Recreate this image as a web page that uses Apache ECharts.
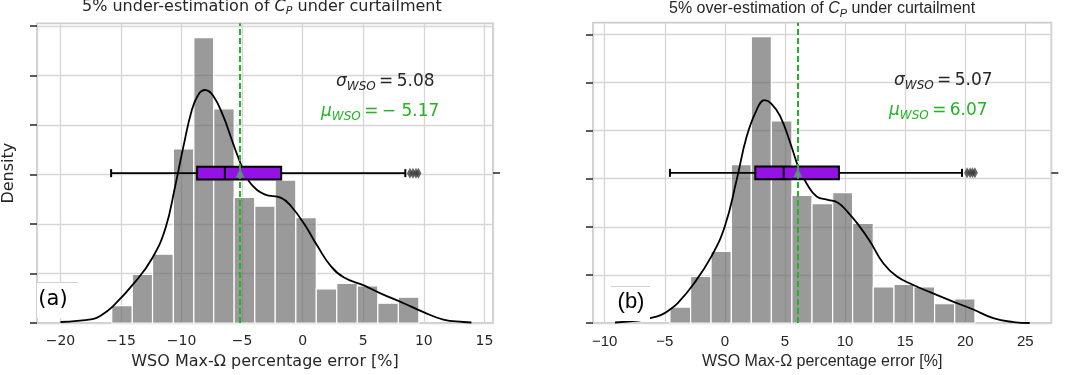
<!DOCTYPE html>
<html>
<head>
<meta charset="utf-8">
<script src="https://cdn.jsdelivr.net/npm/echarts@6/dist/echarts.min.js"></script>
<style>
  html, body { margin: 0; padding: 0; background: #fff; }
  #main { width: 1068px; height: 375px; }
</style>
</head>
<body>
<div id="main"></div>
<script>
// ---- panel (a): 5% under-estimation ----
const edgesA = [-15.77, -14.07, -12.40, -10.68, -8.99, -7.35, -5.66, -3.96, -2.27, -0.57, 1.12, 2.81, 4.51, 6.20, 7.90, 9.59];
const heightsA = [0.35, 0.98, 1.39, 3.52, 5.77, 4.33, 2.54, 2.36, 2.89, 2.13, 0.69, 0.80, 0.75, 0.40, 0.52];
const kdeXA = [-20.0, -17.35, -16.8, -15.7, -13.8, -12.43, -11.34, -10.52, -9.84, -9.16, -8.61, -8.07, -7.38, -6.56, -5.88, -5.33, -4.79, -4.24, -3.15, -1.78, -0.96, 0.13, 1.23, 2.32, 3.41, 5.05, 6.42, 8.33, 9.97, 11.61, 13.25, 13.93];
const kdeYA = [0.02, 0.08, 0.13, 0.33, 0.84, 1.31, 1.91, 2.78, 3.58, 4.30, 4.62, 4.71, 4.59, 4.18, 3.72, 3.35, 3.03, 2.80, 2.60, 2.53, 2.36, 2.00, 1.55, 1.15, 0.92, 0.76, 0.60, 0.40, 0.22, 0.07, 0.02, 0.01];
const boxA = [-15.82, -8.72, -6.43, -1.78, 8.47]; // min, q1, median, q3, max
const outliersA = [8.85, 9.1, 9.35, 9.55];
const meanA = -5.17;
const stdA = 5.08;

// ---- panel (b): 5% over-estimation ----
const edgesB = [-4.57, -2.85, -1.15, 0.54, 2.20, 3.87, 5.58, 7.25, 8.97, 10.63, 12.35, 14.07, 15.73, 17.45, 19.12, 20.81];
const heightsB = [0.33, 0.97, 1.49, 3.29, 5.95, 4.20, 2.65, 2.48, 2.71, 2.07, 0.75, 0.80, 0.75, 0.40, 0.50];
const kdeXB = [-9.14, -7.23, -6.23, -5.29, -4.57, -3.90, -2.63, -1.13, 0.0, 0.98, 1.81, 2.65, 3.31, 3.86, 4.6, 5.5, 6.1, 6.8, 7.64, 8.58, 9.41, 10.24, 11.08, 12.07, 13.18, 14.29, 15.68, 17.17, 18.73, 20.67, 22.33, 24.0, 25.36];
const kdeYB = [0.01, 0.05, 0.10, 0.17, 0.28, 0.42, 0.80, 1.38, 2.01, 2.97, 3.87, 4.43, 4.63, 4.56, 4.30, 3.70, 3.25, 2.90, 2.63, 2.56, 2.50, 2.30, 2.05, 1.70, 1.24, 0.97, 0.79, 0.63, 0.47, 0.28, 0.10, 0.02, 0.0];
const boxB = [-4.57, 2.53, 4.89, 9.49, 19.73];
const outliersB = [20.15, 20.4, 20.6, 20.8];
const meanB = 6.07;
const stdB = 5.07;

const GREEN = '#22b422';
const PURPLE = '#9512e6';
const TEXT = '#262626';

function histData(edges, heights) {
  return heights.map((h, i) => [edges[i], edges[i + 1], h]);
}
function zip(xs, ys) {
  return xs.map((x, i) => [x, ys[i]]);
}
function fmt(v) {
  // mathtext style: binary minus with spaces
  return v < 0 ? '\u2212 ' + Math.abs(v).toFixed(2) : v.toFixed(2);
}

function renderHist(params, api) {
  const tl = api.coord([api.value(0), api.value(2)]);
  const br = api.coord([api.value(1), 0]);
  return {
    type: 'rect',
    shape: { x: tl[0], y: tl[1], width: br[0] - tl[0], height: br[1] - tl[1] },
    style: { fill: 'rgba(102,102,102,0.66)', stroke: '#ffffff', lineWidth: 1.2 }
  };
}

function renderBox(params, api) {
  const pts = [0, 1, 2, 3, 4].map(i => api.coord([api.value(i), api.value(5)]));
  const cy = pts[0][1];
  const h = 12.6, cap = 4;
  const ln = (x1, y1, x2, y2, w) => ({ type: 'line', shape: { x1, y1, x2, y2 }, style: { stroke: '#000', lineWidth: w } });
  return {
    type: 'group',
    children: [
      ln(pts[0][0], cy, pts[1][0], cy, 1.8),
      ln(pts[3][0], cy, pts[4][0], cy, 1.8),
      ln(pts[0][0], cy - cap, pts[0][0], cy + cap, 2),
      ln(pts[4][0], cy - cap, pts[4][0], cy + cap, 2),
      {
        type: 'rect',
        shape: { x: pts[1][0], y: cy - h / 2, width: pts[3][0] - pts[1][0], height: h },
        style: { fill: PURPLE, stroke: '#000', lineWidth: 2 }
      },
      ln(pts[2][0], cy - h / 2, pts[2][0], cy + h / 2, 2)
    ]
  };
}

function xAxisFor(g, min, max, font, size) {
  return {
    type: 'value', gridIndex: g, min: min, max: max, minInterval: 5, maxInterval: 5,
    axisLine: { show: false, onZero: false }, axisTick: { show: false },
    splitLine: { show: true, lineStyle: { color: '#d6d6d6', width: 1.3 } },
    axisLabel: {
      color: TEXT, fontFamily: font, fontSize: size, margin: 11,
      formatter: v => (Math.abs(v % 5) < 1e-9 ? String(v).replace('-', '\u2212') : '')
    },
    name: 'WSO Max-\u03a9 percentage error [%]', nameLocation: 'middle', nameGap: 31,
    nameTextStyle: { color: TEXT, fontFamily: font, fontSize: 16 }
  };
}
function yAxisFor(g, max, name) {
  return {
    type: 'value', gridIndex: g, min: 0, max: max, minInterval: 1, maxInterval: 1,
    position: 'left',
    axisLine: { show: false, onZero: false }, axisLabel: { show: false },
    axisTick: { show: true, length: 7, lineStyle: { color: '#333', width: 1.6 }, customValues: [0, 1, 2, 3, 4, 5, 6] },
    splitLine: { show: true, lineStyle: { color: '#d6d6d6', width: 1.3 } },
    name: name, nameLocation: 'middle', nameGap: 20,
    nameTextStyle: { color: TEXT, fontFamily: 'DejaVu Sans', fontSize: 16 }
  };
}
function boxAxisFor(g) {
  return {
    type: 'category', gridIndex: g, data: ['box'], position: 'right',
    axisLine: { show: false, onZero: false }, axisLabel: { show: false }, splitLine: { show: false },
    axisTick: { show: true, alignWithLabel: true, length: 7, lineStyle: { color: '#333', width: 1.6 } }
  };
}

function panelSeries(xi, yi, bi, edges, heights, kx, ky, box, outliers, mean) {
  return [
    {
      type: 'custom', xAxisIndex: xi, yAxisIndex: yi, z: 2,
      renderItem: renderHist, encode: { x: [0, 1], y: 2 },
      data: histData(edges, heights)
    },
    {
      type: 'line', xAxisIndex: xi, yAxisIndex: yi, z: 3,
      data: zip(kx, ky), smooth: 0.45, showSymbol: false, symbol: 'none',
      lineStyle: { color: '#000', width: 1.8 }
    },
    {
      type: 'custom', xAxisIndex: xi, yAxisIndex: bi, z: 4,
      renderItem: renderBox, encode: { x: [0, 1, 2, 3, 4], y: 5 },
      data: [box.concat(['box'])]
    },
    {
      type: 'scatter', xAxisIndex: xi, yAxisIndex: bi, z: 5,
      symbol: 'diamond', symbolSize: [6, 11],
      itemStyle: { color: '#3b3b3b' },
      data: outliers.map(v => [v, 'box'])
    },
    {
      type: 'scatter', xAxisIndex: xi, yAxisIndex: bi, z: 6,
      symbol: 'triangle', symbolSize: [9, 9],
      itemStyle: { color: '#55a868' },
      data: [[mean, 'box']],
      markLine: {
        silent: true, symbol: 'none', label: { show: false },
        lineStyle: { color: GREEN, type: [6, 3], width: 2 },
        data: [{ xAxis: mean }]
      }
    }
  ];
}

const richMath = (size, color) => ({
  g: { fontFamily: 'DejaVu Sans', fontStyle: 'italic', fontSize: size, fill: color, lineHeight: 22 },
  s: { fontFamily: 'DejaVu Sans', fontStyle: 'italic', fontSize: Math.round(size * 0.7), fill: color, lineHeight: 9, verticalAlign: 'bottom' },
  n: { fontFamily: 'DejaVu Sans', fontSize: size, fill: color, lineHeight: 22 }
});

function annot(x, y, sym, val, color, size) {
  return {
    type: 'text', x: x, y: y, z: 20,
    style: {
      text: '{g|' + sym + '}{s|WSO}{n|\u2009=\u2009' + val + '}',
      rich: richMath(size, color), verticalAlign: 'middle', align: 'left'
    }
  };
}

const chart = echarts.init(document.getElementById('main'));
chart.setOption({
  animation: false,
  backgroundColor: '#ffffff',
  title: [
    {
      text: '5% under-estimation of {c|C}{p|P} under curtailment',
      left: 82, top: -3, padding: 0,
      textStyle: {
        fontFamily: 'DejaVu Sans', fontSize: 16, fontWeight: 'normal', color: TEXT, lineHeight: 20,
        rich: {
          c: { fontFamily: 'DejaVu Sans', fontStyle: 'italic', fontSize: 16, color: TEXT, lineHeight: 20 },
          p: { fontFamily: 'DejaVu Sans', fontStyle: 'italic', fontSize: 11, color: TEXT, lineHeight: 10, verticalAlign: 'bottom' }
        }
      }
    },
    {
      text: '5% over-estimation of {c|C}{p|P} under curtailment',
      left: 669, top: -1, padding: 0,
      textStyle: {
        fontFamily: 'Liberation Sans', fontSize: 16, fontWeight: 'normal', color: TEXT, lineHeight: 20,
        rich: {
          c: { fontFamily: 'Liberation Sans', fontStyle: 'italic', fontSize: 16, color: TEXT, lineHeight: 20 },
          p: { fontFamily: 'Liberation Sans', fontStyle: 'italic', fontSize: 11, color: TEXT, lineHeight: 10, verticalAlign: 'bottom' }
        }
      }
    }
  ],
  grid: [
    { left: 34, top: 23.3, width: 459, height: 301.7, show: true, borderColor: '#cccccc', borderWidth: 1.8, backgroundColor: '#fff' },
    { left: 593, top: 22.7, width: 458.3, height: 300.6, show: true, borderColor: '#cccccc', borderWidth: 1.8, backgroundColor: '#fff' }
  ],
  xAxis: [
    xAxisFor(0, -21.94, 15.71, 'DejaVu Sans', 14),
    xAxisFor(1, -10.97, 27.16, 'Liberation Sans', 15)
  ],
  yAxis: [
    yAxisFor(0, 6.058, 'Density'),
    yAxisFor(1, 6.24, ''),
    boxAxisFor(0),
    boxAxisFor(1)
  ],
  series: [].concat(
    panelSeries(0, 0, 2, edgesA, heightsA, kdeXA, kdeYA, boxA, outliersA, meanA),
    panelSeries(1, 1, 3, edgesB, heightsB, kdeXB, kdeYB, boxB, outliersB, meanB)
  ),
  graphic: [
    annot(336, 82, '\u03c3', stdA.toFixed(2), TEXT, 17),
    annot(321, 112, '\u03bc', fmt(meanA), GREEN, 17),
    annot(894, 81, '\u03c3', stdB.toFixed(2), TEXT, 17),
    annot(889, 111, '\u03bc', fmt(meanB), GREEN, 17),
    // panel letters on white legend boxes
    { type: 'rect', z: 15, shape: { x: 37, y: 282, width: 41, height: 36 }, style: { fill: '#ffffff' } },
    { type: 'line', z: 16, shape: { x1: 37, y1: 282.5, x2: 78, y2: 282.5 }, style: { stroke: '#d0d0d0', lineWidth: 1 } },
    { type: 'text', z: 17, x: 53, y: 300, style: { text: '(a)', fontFamily: 'DejaVu Sans', fontSize: 21, fill: '#000', align: 'center', verticalAlign: 'middle' } },
    { type: 'rect', z: 15, shape: { x: 611, y: 286, width: 39, height: 35 }, style: { fill: '#ffffff' } },
    { type: 'line', z: 16, shape: { x1: 611, y1: 286.5, x2: 650, y2: 286.5 }, style: { stroke: '#d0d0d0', lineWidth: 1 } },
    { type: 'text', z: 17, x: 631, y: 302, style: { text: '(b)', fontFamily: 'Liberation Sans', fontSize: 22, fill: '#000', align: 'center', verticalAlign: 'middle' } }
  ]
});
</script>
</body>
</html>
